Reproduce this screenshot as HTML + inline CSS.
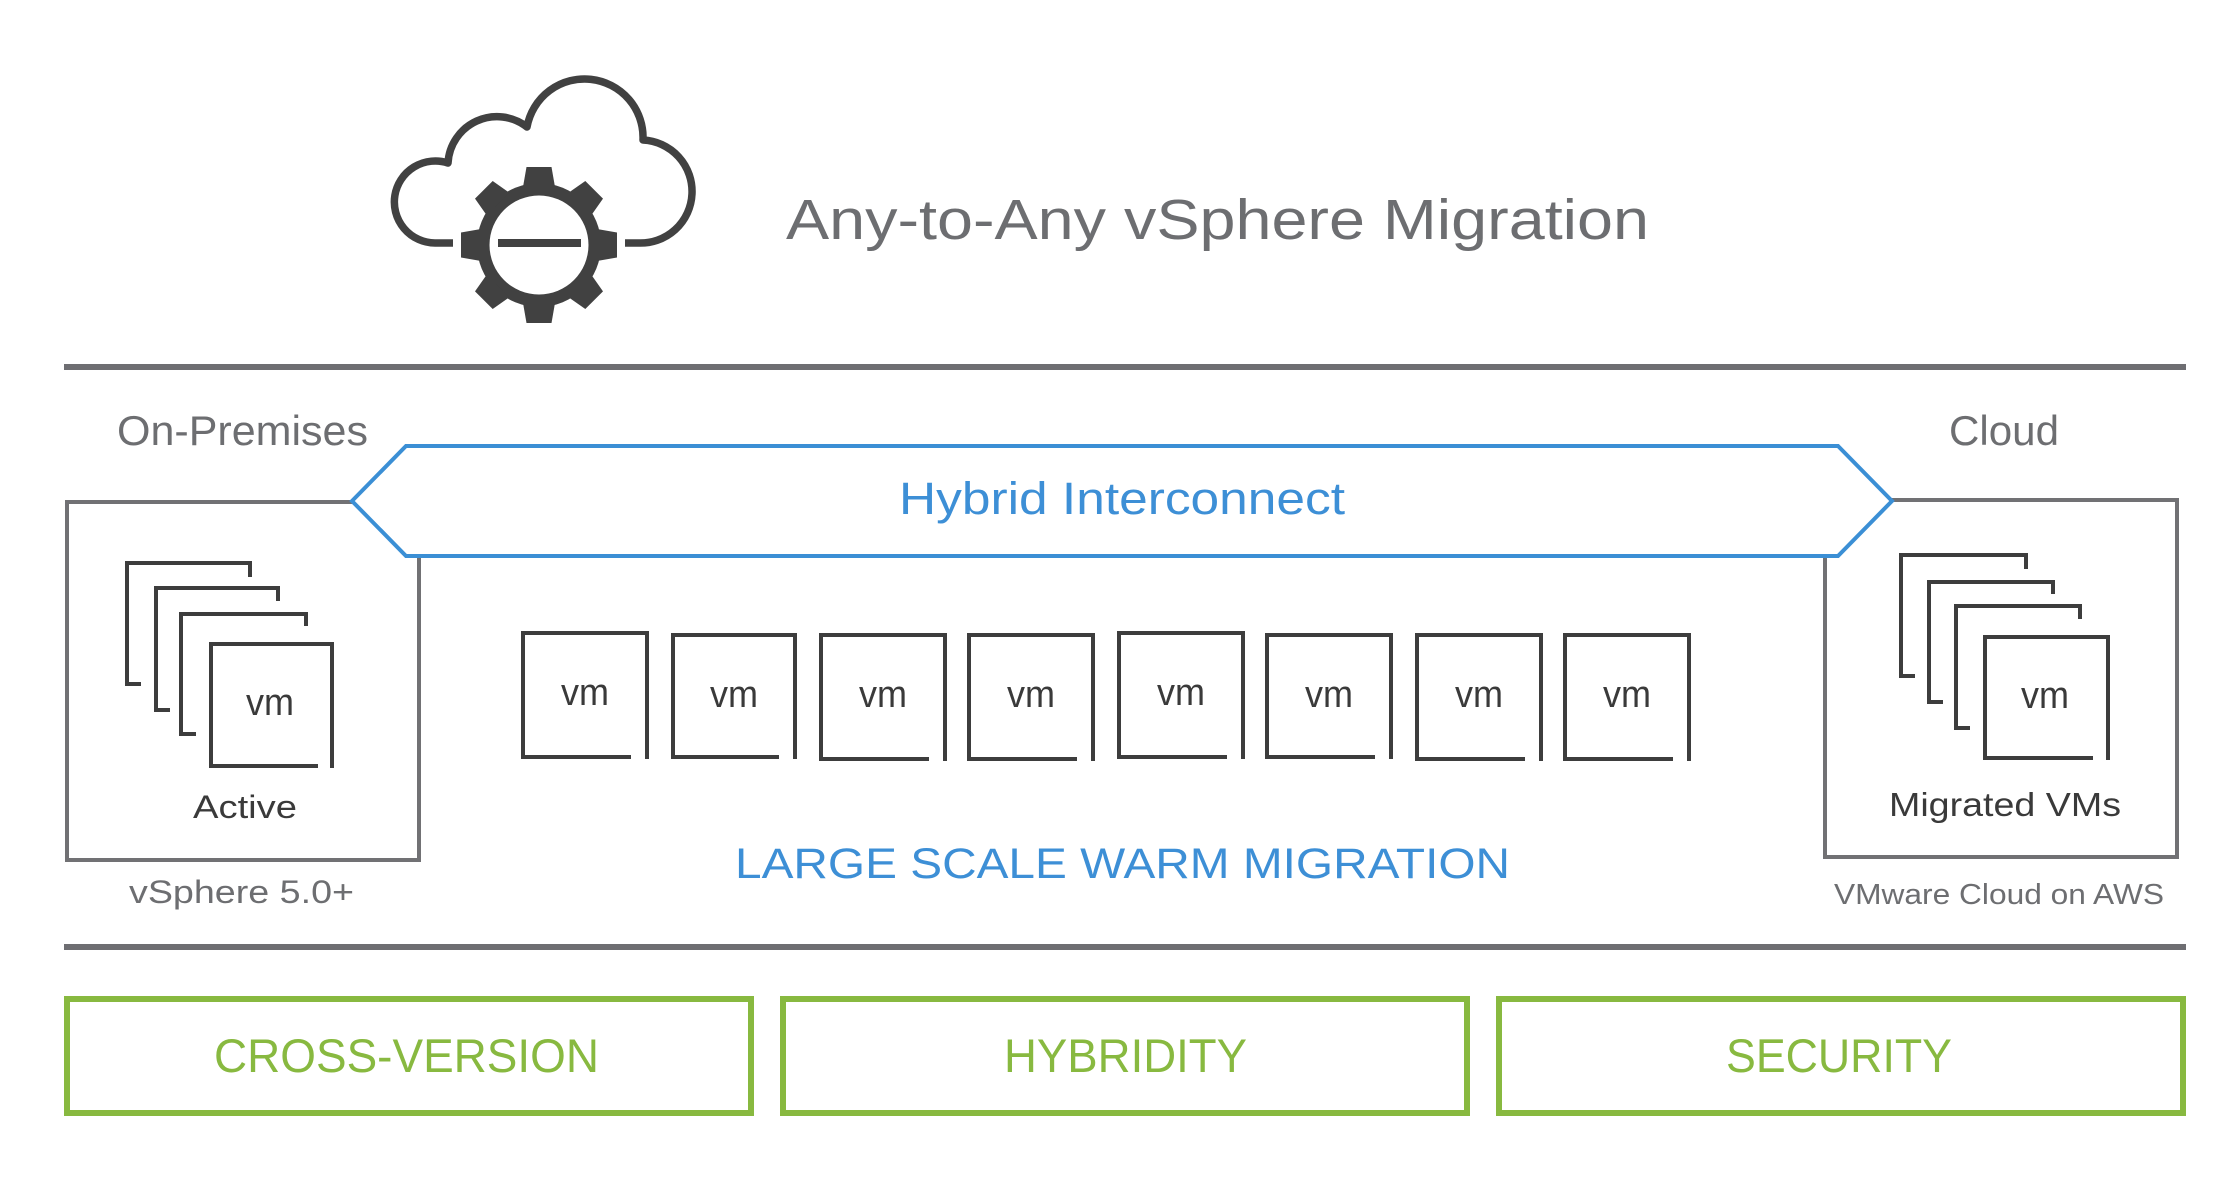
<!DOCTYPE html>
<html>
<head>
<meta charset="utf-8">
<style>
  html,body{margin:0;padding:0;background:#fff;}
  svg{display:block;}
  text{font-family:"Liberation Sans", sans-serif;}
</style>
</head>
<body>
<svg width="2240" height="1178" viewBox="0 0 2240 1178" xmlns="http://www.w3.org/2000/svg">
  <rect x="0" y="0" width="2240" height="1178" fill="#ffffff"/>

  <!-- Icon: cloud with gear -->
  <path d="M 453 243 L 435 243 A 41 41 0 1 1 448 163 A 49 49 0 0 1 527 127 A 58.5 58.5 0 0 1 643 140 A 51.5 51.5 0 0 1 638 243 L 625 243"
        fill="none" stroke="#414141" stroke-width="7.5" stroke-linejoin="round"/>
  <g transform="translate(539,245)" fill="#414141">
    <circle cx="0" cy="0" r="62"/>
    <polygon points="-16,-58 -12.5,-78 12.5,-78 16,-58"/>
    <polygon points="-16,-58 -12.5,-78 12.5,-78 16,-58" transform="rotate(45)"/>
    <polygon points="-16,-58 -12.5,-78 12.5,-78 16,-58" transform="rotate(90)"/>
    <polygon points="-16,-58 -12.5,-78 12.5,-78 16,-58" transform="rotate(135)"/>
    <polygon points="-16,-58 -12.5,-78 12.5,-78 16,-58" transform="rotate(180)"/>
    <polygon points="-16,-58 -12.5,-78 12.5,-78 16,-58" transform="rotate(225)"/>
    <polygon points="-16,-58 -12.5,-78 12.5,-78 16,-58" transform="rotate(270)"/>
    <polygon points="-16,-58 -12.5,-78 12.5,-78 16,-58" transform="rotate(315)"/>
    <circle cx="0" cy="0" r="49.5" fill="#ffffff"/>
  </g>
  <rect x="498" y="239" width="83" height="8" fill="#414141"/>

  <!-- Title -->
  <text x="786" y="239" font-size="57" fill="#6d6e71" textLength="863" lengthAdjust="spacingAndGlyphs">Any-to-Any vSphere Migration</text>

  <!-- Dividers -->
  <rect x="64" y="364" width="2122" height="6" fill="#6e6e72"/>
  <rect x="64" y="944" width="2122" height="6" fill="#6e6e72"/>

  <!-- Section labels -->
  <text x="117" y="445" font-size="42" fill="#6d6e71" textLength="251" lengthAdjust="spacingAndGlyphs">On-Premises</text>
  <text x="1949" y="445" font-size="42" fill="#6d6e71" textLength="110" lengthAdjust="spacingAndGlyphs">Cloud</text>

  <!-- Large boxes -->
  <rect x="67" y="502" width="352" height="358" fill="none" stroke="#717174" stroke-width="4"/>
  <rect x="1825" y="500" width="352" height="357" fill="none" stroke="#717174" stroke-width="4"/>

  <!-- Hybrid Interconnect hexagon -->
  <polygon points="352,501 406,446 1838,446 1892,501 1838,556 406,556" fill="#ffffff" stroke="#3b8fd5" stroke-width="4" stroke-linejoin="miter"/>
  <text x="899" y="514" font-size="45" fill="#3d8fd6" textLength="446" lengthAdjust="spacingAndGlyphs">Hybrid Interconnect</text>

  <!-- Left VM stack -->
  <g fill="none" stroke="#3d3d3d" stroke-width="4">
    <polyline points="141,684 127,684 127,563 250,563 250,577"/>
    <polyline points="170,710 156,710 156,588 278,588 278,601"/>
    <polyline points="196,734 181,734 181,614 306,614 306,626"/>
    <polyline points="318,766 211,766 211,644 332,644 332,768"/>
  </g>
  <text x="246" y="715" font-size="38" fill="#3a3a3a" textLength="48" lengthAdjust="spacingAndGlyphs">vm</text>
  <text x="193" y="818" font-size="32" fill="#3a3a3a" textLength="104" lengthAdjust="spacingAndGlyphs">Active</text>
  <text x="129" y="903" font-size="32" fill="#6d6e71" textLength="225" lengthAdjust="spacingAndGlyphs">vSphere 5.0+</text>

  <!-- Right VM stack -->
  <g fill="none" stroke="#3d3d3d" stroke-width="4">
    <polyline points="1915,676 1901,676 1901,555 2026,555 2026,569"/>
    <polyline points="1943,702 1929,702 1929,582 2053,582 2053,594"/>
    <polyline points="1970,728 1956,728 1956,606 2080,606 2080,619"/>
    <polyline points="2093,758 1985,758 1985,637 2108,637 2108,760"/>
  </g>
  <text x="2021" y="708" font-size="38" fill="#3a3a3a" textLength="48" lengthAdjust="spacingAndGlyphs">vm</text>
  <text x="1889" y="816" font-size="33" fill="#3a3a3a" textLength="232" lengthAdjust="spacingAndGlyphs">Migrated VMs</text>
  <text x="1834" y="904" font-size="29" fill="#6d6e71" textLength="330" lengthAdjust="spacingAndGlyphs">VMware Cloud on AWS</text>

  <!-- VM row -->
  <g fill="none" stroke="#3d3d3d" stroke-width="4">
    <polyline points="631,757 523,757 523,633 647,633 647,759"/>
    <polyline points="779,757 673,757 673,635 795,635 795,759"/>
    <polyline points="929,759 821,759 821,635 945,635 945,761"/>
    <polyline points="1077,759 969,759 969,635 1093,635 1093,761"/>
    <polyline points="1227,757 1119,757 1119,633 1243,633 1243,759"/>
    <polyline points="1375,757 1267,757 1267,635 1391,635 1391,759"/>
    <polyline points="1525,759 1417,759 1417,635 1541,635 1541,761"/>
    <polyline points="1673,759 1565,759 1565,635 1689,635 1689,761"/>
  </g>
  <g font-size="38" fill="#3a3a3a">
    <text x="561" y="705" textLength="48" lengthAdjust="spacingAndGlyphs">vm</text>
    <text x="710" y="707" textLength="48" lengthAdjust="spacingAndGlyphs">vm</text>
    <text x="859" y="707" textLength="48" lengthAdjust="spacingAndGlyphs">vm</text>
    <text x="1007" y="707" textLength="48" lengthAdjust="spacingAndGlyphs">vm</text>
    <text x="1157" y="705" textLength="48" lengthAdjust="spacingAndGlyphs">vm</text>
    <text x="1305" y="707" textLength="48" lengthAdjust="spacingAndGlyphs">vm</text>
    <text x="1455" y="707" textLength="48" lengthAdjust="spacingAndGlyphs">vm</text>
    <text x="1603" y="707" textLength="48" lengthAdjust="spacingAndGlyphs">vm</text>
  </g>

  <text x="735" y="878" font-size="43" fill="#3d8fd6" textLength="775" lengthAdjust="spacingAndGlyphs">LARGE SCALE WARM MIGRATION</text>

  <!-- Bottom green boxes -->
  <g fill="none" stroke="#88b940" stroke-width="6">
    <rect x="67" y="999" width="684" height="114"/>
    <rect x="783" y="999" width="684" height="114"/>
    <rect x="1499" y="999" width="684" height="114"/>
  </g>
  <g font-size="47" fill="#88b940">
    <text x="214" y="1072" textLength="385" lengthAdjust="spacingAndGlyphs">CROSS-VERSION</text>
    <text x="1004" y="1072" textLength="243" lengthAdjust="spacingAndGlyphs">HYBRIDITY</text>
    <text x="1726" y="1072" textLength="226" lengthAdjust="spacingAndGlyphs">SECURITY</text>
  </g>
</svg>
</body>
</html>
